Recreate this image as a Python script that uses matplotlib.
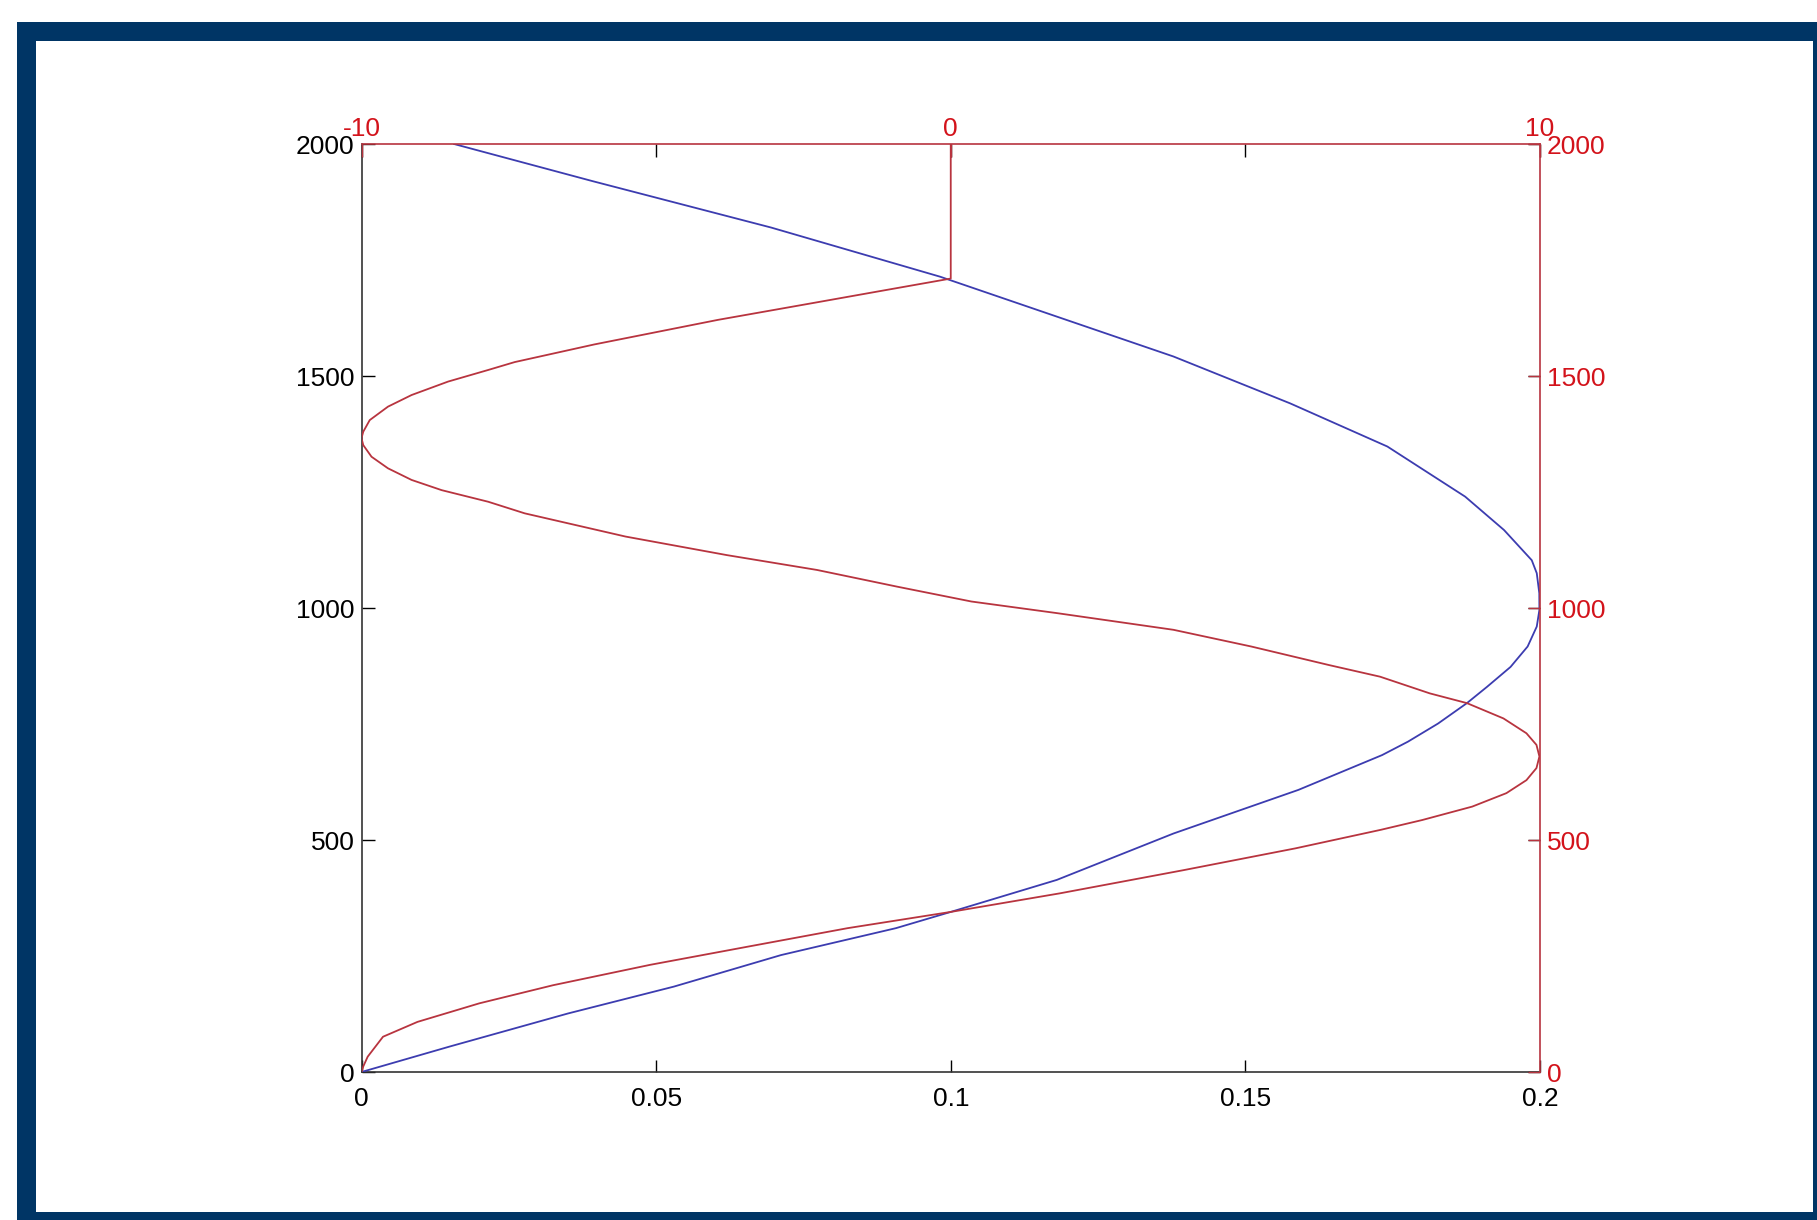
import matplotlib
matplotlib.use("Agg")
import matplotlib.pyplot as plt
from matplotlib.patches import Rectangle

# ---- data ----
# blue curve (bottom / left axes)
blue_x = [0.0, 0.0150, 0.0350, 0.0530, 0.0712, 0.0907, 0.1, 0.118, 0.1378,
          0.1590, 0.1732, 0.1776, 0.1827, 0.1876, 0.1910, 0.1950, 0.1979,
          0.19945, 0.1999, 0.19988, 0.19945, 0.1986, 0.1939, 0.1873, 0.1741,
          0.1576, 0.1378, 0.118, 0.0982, 0.0695, 0.0392, 0.0157]
blue_y = [0, 55, 126, 184, 252, 310, 345, 414, 514,
          608, 683, 712, 751, 795, 830, 873, 917,
          960, 996, 1032, 1075, 1103, 1168, 1240, 1348,
          1441, 1542, 1628, 1714, 1820, 1920, 2000]

# red curve (top / right axes)
red_x = [-10, -9.97, -9.895, -9.635, -9.05, -8.00, -6.75, -5.10, -3.45, -1.75,
         0.0, 1.85, 3.95, 5.85, 7.30, 8.00, 8.85, 9.43, 9.77, 9.94, 9.99,
         9.94, 9.77, 9.38, 8.76, 8.13, 7.285, 6.42, 5.10, 3.78, 1.80, 0.35,
         -0.91, -2.27, -3.80, -5.52, -7.23, -7.85, -8.64, -9.15, -9.55, -9.83,
         -9.97, -10.0, -9.97, -9.86, -9.55, -9.15, -8.53, -7.85, -7.4, -6.05,
         -3.95, -2.35, -1.2, 0.0, 0.0]
red_y = [0, 12, 33, 76, 108, 148, 187, 231, 270, 310,
         345, 385, 435, 482, 522, 543, 572, 601, 629, 655, 680,
         705, 730, 762, 795, 816, 852, 877, 917, 953, 989, 1014,
         1046, 1082, 1114, 1154, 1204, 1229, 1254, 1276, 1301, 1326,
         1351, 1366, 1380, 1405, 1434, 1459, 1488, 1513, 1530, 1568,
         1621, 1657, 1683, 1710, 2000]

x_ticks = [0, 0.05, 0.1, 0.15, 0.2]
x_labels = ["0", "0.05", "0.1", "0.15", "0.2"]
y_ticks = [0, 500, 1000, 1500, 2000]
y_labels = ["0", "500", "1000", "1500", "2000"]
top_ticks = [-10, 0, 10]
top_labels = ["-10", "0", "10"]

plt.rcParams["font.family"] = ["Liberation Sans", "DejaVu Sans"]

RED_TXT = "#d3131b"
RED_LINE = "#b8343f"
BLUE_LINE = "#3c3cb0"
FRAME = "#003565"
FS = 19

W, H = 1817, 1220
fig = plt.figure(figsize=(W / 100, H / 100), dpi=100)
fig.patch.set_facecolor("white")

# dark frame round the picture (cut off at right / bottom)
def px_rect(x0, y0, x1, y1):
    fig.patches.append(Rectangle((x0 / W, 1 - y1 / H), (x1 - x0) / W, (y1 - y0) / H,
                                 transform=fig.transFigure, facecolor=FRAME,
                                 edgecolor="none", zorder=0))

px_rect(17, 22, W, 41)
px_rect(17, 22, 36, H)
px_rect(1813, 22, W, H)
px_rect(17, 1212, W, H)

rect = [361.5 / W, 1 - 1072 / H, (1540 - 361.5) / W, (1072 - 144) / H]

# ---- main axes (blue) ----
ax = fig.add_axes(rect)
ax.plot(blue_x, blue_y, color=BLUE_LINE, lw=1.3, zorder=3)
ax.set_xlim(0, 0.2)
ax.set_ylim(0, 2000)
ax.set_xticks(x_ticks)
ax.set_xticklabels(x_labels)
ax.set_yticks(y_ticks)
ax.set_yticklabels(y_labels)
ax.tick_params(direction="in", length=9, width=1, top=True, right=True,
               labeltop=False, labelright=False, colors="black", labelsize=FS)
ax.tick_params(axis="x", pad=11)
ax.tick_params(axis="y", pad=5)
for s in ["left", "bottom"]:
    ax.spines[s].set_color("#333333")
    ax.spines[s].set_linewidth(1.2)
for s in ["top", "right"]:
    ax.spines[s].set_visible(False)

# ---- second axes (red) ----
ax2 = fig.add_axes(rect, facecolor="none")
ax2.plot(red_x, red_y, color=RED_LINE, lw=1.3, zorder=2)
ax2.set_xlim(-10, 10)
ax2.set_ylim(0, 2000)
ax2.set_xticks(top_ticks)
ax2.set_xticklabels(top_labels)
ax2.set_yticks(y_ticks)
ax2.set_yticklabels(y_labels)
ax2.xaxis.tick_top()
ax2.yaxis.tick_right()
ax2.tick_params(direction="in", length=9, width=1, colors=RED_LINE,
                labelcolor=RED_TXT, labelsize=FS)
ax2.tick_params(axis="x", pad=2)
ax2.tick_params(axis="y", pad=5)
for s in ["left", "bottom"]:
    ax2.spines[s].set_visible(False)
for s in ["top", "right"]:
    ax2.spines[s].set_color(RED_LINE)
    ax2.spines[s].set_linewidth(1.2)

fig.savefig("out.png", dpi=100)
